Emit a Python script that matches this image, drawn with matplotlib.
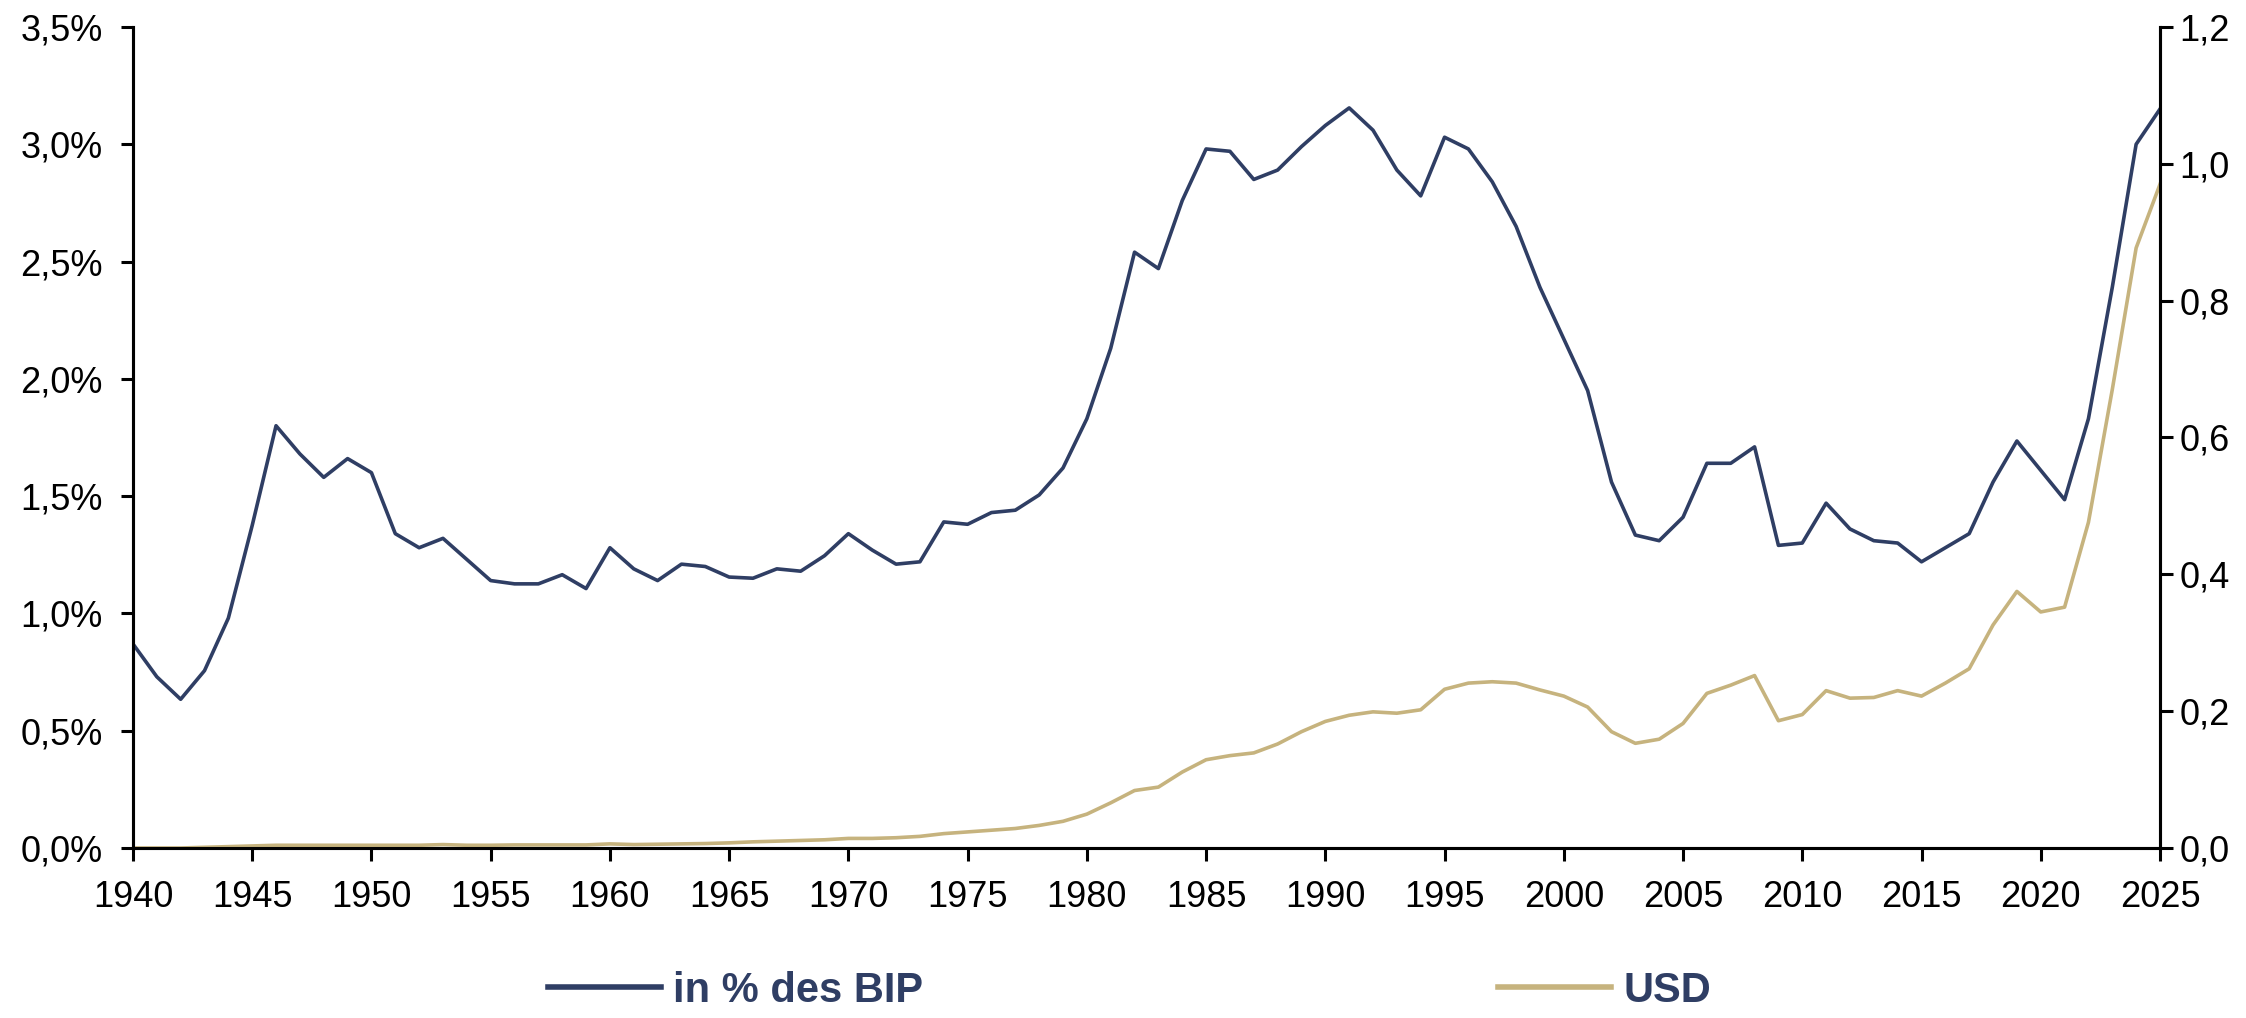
import matplotlib
matplotlib.use("Agg")
import matplotlib.pyplot as plt
from matplotlib.ticker import FuncFormatter

plt.rcParams['font.family'] = ['Liberation Sans', 'DejaVu Sans']

years = list(range(1940, 2026))

# in % des BIP (linke Achse)
pct_gdp = [0.87, 0.73, 0.634, 0.756, 0.98, 1.375, 1.80, 1.68, 1.58, 1.66,
           1.60, 1.34, 1.28, 1.32, 1.23, 1.14, 1.126, 1.126, 1.165, 1.106,
           1.28, 1.19, 1.14, 1.21, 1.20, 1.155, 1.15, 1.19, 1.18, 1.246,
           1.34, 1.27, 1.21, 1.22, 1.39, 1.38, 1.43, 1.44, 1.505, 1.62,
           1.83, 2.13, 2.54, 2.47, 2.76, 2.98, 2.97, 2.85, 2.89, 2.99,
           3.08, 3.155, 3.06, 2.89, 2.78, 3.03, 2.98, 2.84, 2.65, 2.39,
           2.17, 1.95, 1.56, 1.334, 1.31, 1.41, 1.64, 1.64, 1.71, 1.29,
           1.30, 1.47, 1.36, 1.31, 1.30, 1.22, 1.28, 1.34, 1.56, 1.735,
           1.61, 1.485, 1.83, 2.39, 3.00, 3.15]

# USD (rechte Achse)
usd = [0.0, 0.0, 0.0, 0.001, 0.002, 0.003, 0.004, 0.004, 0.004, 0.004,
       0.004, 0.004, 0.004, 0.005, 0.004, 0.004, 0.0045, 0.0045, 0.0045, 0.0045,
       0.006, 0.005, 0.0055, 0.006, 0.0065, 0.0075, 0.009, 0.010, 0.011, 0.012,
       0.014, 0.014, 0.015, 0.017, 0.021, 0.0235, 0.026, 0.0285, 0.033, 0.039,
       0.0495, 0.066, 0.084, 0.089, 0.111, 0.129, 0.135, 0.139, 0.152, 0.17,
       0.185, 0.194, 0.199, 0.197, 0.202, 0.232, 0.241, 0.243, 0.241, 0.231,
       0.222, 0.206, 0.17, 0.153, 0.159, 0.182, 0.226, 0.238, 0.252, 0.186,
       0.195, 0.23, 0.219, 0.22, 0.23, 0.222, 0.241, 0.262, 0.326, 0.375,
       0.345, 0.352, 0.476, 0.67, 0.877, 0.97]

BLUE = "#2f3e64"
GOLD = "#c6b37e"

fig = plt.figure(figsize=(22.46, 10.18), dpi=100)
ax = fig.add_axes([0.0592, 0.167, 0.9025, 0.8065])
ax2 = ax.twinx()

l1, = ax.plot(years, pct_gdp, color=BLUE, lw=2.6, label="in % des BIP")
l2, = ax2.plot(years, usd, color=GOLD, lw=2.6, label="USD")

ax.set_xlim(1940, 2025)
ax.set_ylim(0, 3.5)
ax2.set_ylim(0, 1.2)
ax.set_xticks(range(1940, 2026, 5))
ax.set_yticks([i * 0.5 for i in range(8)])
ax2.set_yticks([i * 0.2 for i in range(7)])
ax.yaxis.set_major_formatter(FuncFormatter(lambda v, p: ("%.1f%%" % v).replace(".", ",")))
ax2.yaxis.set_major_formatter(FuncFormatter(lambda v, p: ("%.1f" % v).replace(".", ",")))

for a in (ax, ax2):
    a.spines['top'].set_visible(False)
    for s in a.spines.values():
        s.set_linewidth(2.2)
    a.tick_params(axis='both', direction='out', length=9, width=2.2,
                  labelsize=26, pad=5)
ax.tick_params(axis='x', pad=14)
ax.tick_params(axis='y', pad=13)

leg = fig.legend([l1, l2], ["in % des BIP", "USD"], loc='center',
                 bbox_to_anchor=(0.503, 0.027), ncol=2, frameon=False,
                 handlelength=2.7, handletextpad=0.3, columnspacing=13.8,
                 prop={'weight': 'bold', 'size': 30})
for t in leg.get_texts():
    t.set_color(BLUE)
for h in leg.get_lines():
    h.set_linewidth(4)

fig.savefig("out.png", dpi=100)
